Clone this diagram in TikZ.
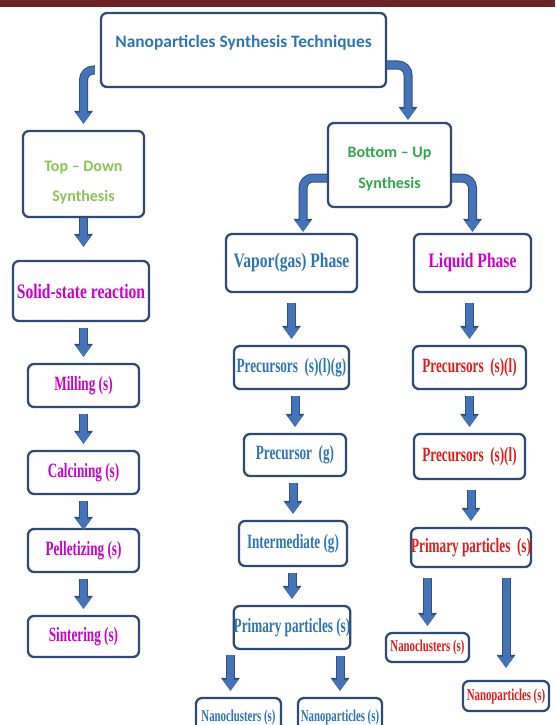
\documentclass[tikz,border=0pt]{standalone}
\usepackage{fontspec}
\setmainfont{Carlito}
\newfontfamily\condserif[FakeStretch=0.76]{Liberation Serif}
\newfontfamily\narrowserif[FakeStretch=0.65]{Liberation Serif}
\usetikzlibrary{arrows.meta}

\definecolor{barred}{HTML}{6B2323}
\definecolor{boxedge}{HTML}{2F4B73}
\definecolor{arrowfill}{HTML}{4473B8}
\definecolor{arrowedge}{HTML}{2C5088}
\definecolor{titleblue}{HTML}{2E75B6}
\definecolor{tdgreen}{HTML}{8DC456}
\definecolor{bugreen}{HTML}{2FA84F}
\definecolor{phmagenta}{HTML}{CC00CC}
\definecolor{lqred}{HTML}{E31B1B}

\tikzset{
  box/.style={draw=boxedge, line width=2.3pt, rounded corners=6pt, fill=white, inner sep=0pt, align=center},
  flow/.style={line width=7pt, draw=arrowfill, -{Triangle[length=11pt,width=15pt]},
    preaction={draw=arrowedge, line width=9pt, -{Triangle[length=13pt,width=18pt]}},
    shorten <=6pt, shorten >=6pt},
  elbowflow/.style={flow, rounded corners=10pt, shorten <=0pt},
  bigtext/.style={font=\condserif\bfseries\fontsize{20.5}{22}\selectfont},
  midtext/.style={font=\narrowserif\bfseries\fontsize{20.3}{22}\selectfont},
  nanotext/.style={font=\narrowserif\bfseries\fontsize{16.6}{18}\selectfont}
}

\begin{document}
\begin{tikzpicture}[x=1pt, y=-1pt]
    \useasboundingbox (0,0) rectangle (555,725);

    % Top bar
    \fill[barred] (0,0) rectangle (555,7);

    % Root and the two branches
    \node[box, minimum width=285pt, minimum height=74pt, text=titleblue, text depth=17pt,
      font=\bfseries\fontsize{17.4}{20}\selectfont] (title) at (243.5,50) {Nanoparticles Synthesis Techniques};
    \node[box, minimum width=121pt, minimum height=86pt, text=tdgreen, text height=57pt,
      font=\bfseries\fontsize{16}{30}\selectfont] (td) at (83.5,174) {Top -- Down\\Synthesis};
    \node[box, minimum width=123pt, minimum height=84pt, text=bugreen, text height=50pt,
      font=\bfseries\fontsize{16}{31}\selectfont] (bu) at (389.5,165) {Bottom -- Up\\Synthesis};

    % Top-down column
    \node[box, bigtext, minimum width=136pt, minimum height=60pt, text=phmagenta] (solid) at (81,291) {Solid-state reaction};
    \node[box, midtext, minimum width=111pt, minimum height=43pt, text=phmagenta] (mill) at (83.5,385.5) {Milling (s)};
    \node[box, midtext, minimum width=111pt, minimum height=43pt, text=phmagenta] (calc) at (83.5,472.5) {Calcining (s)};
    \node[box, midtext, minimum width=111pt, minimum height=43pt, text=phmagenta] (pell) at (83.5,550.5) {Pelletizing (s)};
    \node[box, midtext, minimum width=111pt, minimum height=41pt, text=phmagenta] (sint) at (83.5,636.5) {Sintering (s)};

    % Vapor phase column
    \node[box, bigtext, minimum width=131pt, minimum height=58pt, text=titleblue] (vap) at (291.5,263) {Vapor(gas) Phase};
    \node[box, midtext, minimum width=115pt, minimum height=43pt, text=titleblue] (vp1) at (291.5,367.5) {Precursors\ \ (s)(l)(g)};
    \node[box, midtext, minimum width=102pt, minimum height=42pt, text=titleblue] (vp2) at (295,455) {Precursor\ \ (g)};
    \node[box, midtext, minimum width=108pt, minimum height=45pt, text=titleblue] (vp3) at (293,543.5) {Intermediate (g)};
    \node[box, midtext, minimum width=108pt, minimum height=43pt, text=titleblue] (vp4) at (292,627.5) {Primary particles (s)};
    \node[box, nanotext, minimum width=85pt, minimum height=38pt, text=titleblue] (vnc) at (238.5,717) {Nanoclusters (s)};
    \node[box, nanotext, minimum width=84pt, minimum height=38pt, text=titleblue] (vnp) at (340,717) {Nanoparticles (s)};

    % Liquid phase column
    \node[box, bigtext, minimum width=117pt, minimum height=58pt, text=phmagenta] (liq) at (472.5,263) {Liquid Phase};
    \node[box, midtext, minimum width=113pt, minimum height=43pt, text=lqred] (lp1) at (469.5,367.5) {Precursors\ \ (s)(l)};
    \node[box, midtext, minimum width=111pt, minimum height=45pt, text=lqred] (lp2) at (469.5,456.5) {Precursors\ \ (s)(l)};
    \node[box, midtext, minimum width=116pt, minimum height=39pt, text=lqred] (lp3) at (471,547.5) {Primary particles\ \ (s)};
    \node[box, nanotext, minimum width=83pt, minimum height=29pt, text=lqred] (lnc) at (427.5,647.5) {Nanoclusters (s)};
    \node[box, nanotext, minimum width=86pt, minimum height=30pt, text=lqred] (lnp) at (506,696) {Nanoparticles (s)};

    % Elbow arrows
    \draw[elbowflow, shorten <=5pt] ([yshift=-20pt]title.west) -| (td.north);
    \draw[elbowflow, shorten >=2pt] ([yshift=-15pt]title.east) -| ([xshift=18.5pt]bu.north);
    \draw[elbowflow, shorten >=1pt] ([yshift=-13pt]bu.west) -| ([xshift=11.5pt]vap.north);
    \draw[elbowflow, shorten >=1pt] ([yshift=-13pt]bu.east) -| (liq.north);

    % Straight arrows
    \draw[flow, shorten <=0pt, shorten >=13pt] (td.south) -- (td.south |- solid.north);
    \draw[flow] (mill.north |- solid.south) -- (mill.north);
    \draw[flow] (mill) -- (calc);
    \draw[flow, shorten >=-2pt] (calc) -- (pell);
    \draw[flow] (pell) -- (sint);

    \draw[flow, shorten <=10pt] (vp1.north |- vap.south) -- (vp1.north);
    \draw[flow] (vp2.north |- vp1.south) -- (vp2.north);
    \draw[flow] (vp3.north |- vp2.south) -- (vp3.north);
    \draw[flow] (vp4.north |- vp3.south) -- (vp4.north);
    \coordinate (vncin) at ([xshift=-8pt]vnc.north);
    \draw[flow, shorten <=5pt] (vncin |- vp4.south) -- (vncin);
    \draw[flow] (vnp.north |- vp4.south) -- (vnp.north);

    \draw[flow, shorten <=10pt] (lp1.north |- liq.south) -- (lp1.north);
    \draw[flow] (lp1) -- (lp2);
    \draw[flow, shorten <=10pt] (lp3.north |- lp2.south) -- (lp3.north);
    \draw[flow, shorten <=10pt] (lnc.north |- lp3.south) -- (lnc.north);
    \draw[flow, shorten <=10pt, shorten >=12pt] (lnp.north |- lp3.south) -- (lnp.north);
\end{tikzpicture}
\end{document}
